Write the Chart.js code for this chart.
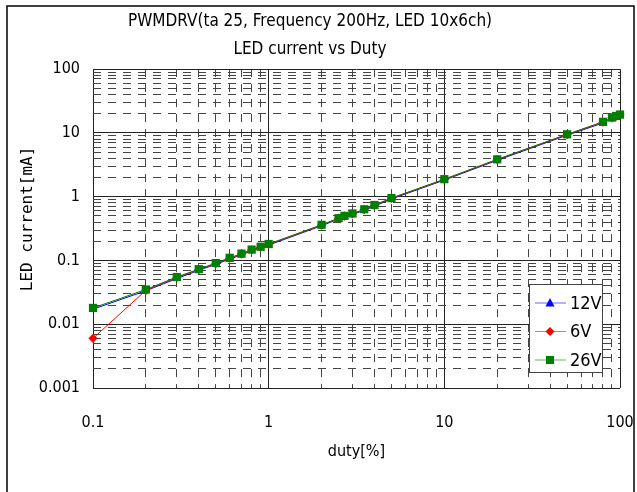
<!DOCTYPE html>
<html>
<head>
<meta charset="utf-8">
<script src="https://cdn.jsdelivr.net/npm/chart.js@4/dist/chart.umd.min.js"></script>
<style>
  html, body { margin: 0; padding: 0; background: #fff; }
  #wrap { width: 637px; height: 492px; }
</style>
</head>
<body>
<div id="wrap"><canvas id="chart" width="637" height="492"></canvas></div>
<script>
// duty [%] on x, LED current [mA] on y
const duty = [0.1, 0.2, 0.3, 0.4, 0.5, 0.6, 0.7, 0.8, 0.9, 1, 2, 2.5, 2.7, 3, 3.5, 4, 5, 10, 20, 50, 80, 90, 95, 100];

const v12 = [0.0172, 0.0335, 0.052, 0.07, 0.087, 0.105, 0.122, 0.142, 0.157, 0.174, 0.35, 0.445, 0.485, 0.525, 0.61, 0.71, 0.92, 1.82, 3.72, 9.2, 14.3, 16.7, 17.6, 18.5];
const v6 = [0.006, 0.034, 0.054, 0.072, 0.089, 0.108, 0.126, 0.146, 0.161, 0.178, 0.357, 0.455, 0.495, 0.535, 0.625, 0.73, 0.94, 1.86, 3.8, 9.4, 14.7, 17.2, 18.2, 19.2];
const v26 = [0.018, 0.035, 0.055, 0.073, 0.091, 0.11, 0.128, 0.148, 0.164, 0.181, 0.362, 0.46, 0.5, 0.545, 0.635, 0.74, 0.95, 1.88, 3.85, 9.5, 14.9, 17.4, 18.4, 19.4];

const xTickLabels = ["0.1", "1", "10", "100"];
const yTickLabels = ["0.001", "0.01", "0.1", "1", "10", "100"];

const seriesNames = ["12V", "6V", "26V"];
const seriesColors = ["#0000ff", "#ff0000", "#008000"];
const seriesMarkers = ["triangle", "rectRot", "rect"];

const FONT = "'Liberation Sans Narrow', 'DejaVu Sans Condensed', sans-serif";

// 1..9 x each decade, so the log grid has every minor line
function decadeTicks(labels) {
  const out = [];
  const decs = labels.map(Number);
  decs.forEach((d, i) => {
    if (i === decs.length - 1) { out.push(d); return; }
    for (let m = 1; m <= 9; m++) out.push(+(m * d).toPrecision(3));
  });
  return out;
}

function pts(ys) {
  return duty.map((x, i) => ({ x: x, y: ys[i] }));
}

const isMajor = (labels, v) => labels.map(Number).some(d => Math.abs(d - v) < d * 1e-6);
const labelFor = (labels, v) => labels.find(l => Math.abs(Number(l) - v) < Number(l) * 1e-6) || "";

function gridOpts(labels) {
  return {
    drawTicks: false,
    tickLength: 0,
    lineWidth: 1,
    color: ctx => (ctx.tick && isMajor(labels, ctx.tick.value)) ? "#222" : "#444"
  };
}

function borderOpts(labels) {
  return {
    display: false,
    dash: ctx => (ctx.tick && isMajor(labels, ctx.tick.value)) ? [] : [8, 7]
  };
}

/* ---------- frame + legend ---------- */
const framePlugin = {
  id: "frame",
  beforeDraw(chart) {
    const c = chart.ctx;
    c.save();
    c.fillStyle = "#fff";
    c.fillRect(0, 0, chart.width, chart.height);
    c.strokeStyle = "#000";
    c.lineWidth = 1.5;
    c.strokeRect(7, 6, 627, 490);
    c.restore();
  }
};

function marker(c, style, x, y, color) {
  c.fillStyle = color;
  c.beginPath();
  if (style === "triangle") {
    c.moveTo(x, y - 5); c.lineTo(x + 4.5, y + 3.5); c.lineTo(x - 4.5, y + 3.5);
  } else if (style === "rectRot") {
    c.moveTo(x, y - 4.5); c.lineTo(x + 4.5, y); c.lineTo(x, y + 4.5); c.lineTo(x - 4.5, y);
  } else {
    c.rect(x - 4, y - 4, 8, 8);
  }
  c.closePath();
  c.fill();
}

const legendPlugin = {
  id: "boxLegend",
  afterDraw(chart) {
    const c = chart.ctx;
    c.save();
    c.fillStyle = "#fff";
    c.fillRect(529, 284, 73, 88);
    c.strokeStyle = "#444";
    c.lineWidth = 1;
    c.strokeRect(529.5, 284.5, 73, 88);
    const rows = [303, 331.5, 360];
    seriesNames.forEach((name, i) => {
      const y = rows[i];
      c.strokeStyle = seriesColors[i];
      c.globalAlpha = 0.6;
      c.beginPath(); c.moveTo(535, y); c.lineTo(566, y); c.stroke();
      c.globalAlpha = 1;
      marker(c, seriesMarkers[i], 550, y, seriesColors[i]);
      c.fillStyle = "#000";
      c.font = "18px " + FONT;
      c.textBaseline = "middle";
      c.fillText(name, 570, y + 1);
    });
    c.restore();
  }
};

// green drawn on top, then red, then blue underneath
const drawOrder = [2, 1, 0];

const datasets = seriesNames.map((name, i) => ({
  label: name,
  data: pts([v12, v6, v26][i]),
  order: drawOrder[i],
  clip: false,
  borderColor: seriesColors[i],
  backgroundColor: seriesColors[i],
  borderWidth: 1,
  pointStyle: seriesMarkers[i],
  pointRadius: seriesMarkers[i] === "rect" ? 5.8 : 4.6,
  pointBorderWidth: 0,
  tension: 0
}));

new Chart(document.getElementById("chart"), {
  type: "line",
  data: { datasets: datasets },
  options: {
    responsive: false,
    animation: false,
    devicePixelRatio: 1,
    layout: { padding: { left: 0, right: 17, top: 0, bottom: 0 } },
    plugins: {
      legend: { display: false },
      tooltip: { enabled: false },
      title: {
        display: true,
        text: ["PWMDRV(ta 25, Frequency 200Hz, LED 10x6ch)", "LED current vs Duty"],
        color: "#000",
        font: { family: FONT, size: 17, weight: "normal", lineHeight: 1.65 },
        padding: { top: 8, bottom: 5 }
      }
    },
    scales: {
      x: {
        type: "logarithmic",
        position: "bottom",
        min: 0.1,
        max: 100,
        afterBuildTicks: s => { s.ticks = decadeTicks(xTickLabels).map(v => ({ value: v })); },
        afterFit: s => { s.height = 104; s.paddingLeft = 0; s.paddingRight = 0; },
        ticks: {
          autoSkip: false,
          maxRotation: 0,
          color: "#000",
          padding: 25,
          font: { family: FONT, size: 16 },
          callback: v => labelFor(xTickLabels, v)
        },
        grid: gridOpts(xTickLabels),
        border: borderOpts(xTickLabels),
        title: {
          display: true,
          text: "duty[%]",
          color: "#000",
          font: { family: FONT, size: 16 },
          padding: { top: 0, bottom: 31 }
        }
      },
      y: {
        type: "logarithmic",
        min: 0.001,
        max: 100,
        afterBuildTicks: s => { s.ticks = decadeTicks(yTickLabels).map(v => ({ value: v })); },
        afterFit: s => { s.width = 93; },
        ticks: {
          autoSkip: false,
          color: "#000",
          padding: 13,
          font: { family: FONT, size: 16 },
          callback: v => labelFor(yTickLabels, v)
        },
        grid: gridOpts(yTickLabels),
        border: borderOpts(yTickLabels),
        title: {
          display: true,
          text: "  LED current[mA]",
          color: "#000",
          font: { family: "'DejaVu Sans Mono', monospace", size: 16 },
          padding: { top: 18, bottom: 0 }
        }
      }
    }
  },
  plugins: [framePlugin, legendPlugin]
});
</script>
</body>
</html>
